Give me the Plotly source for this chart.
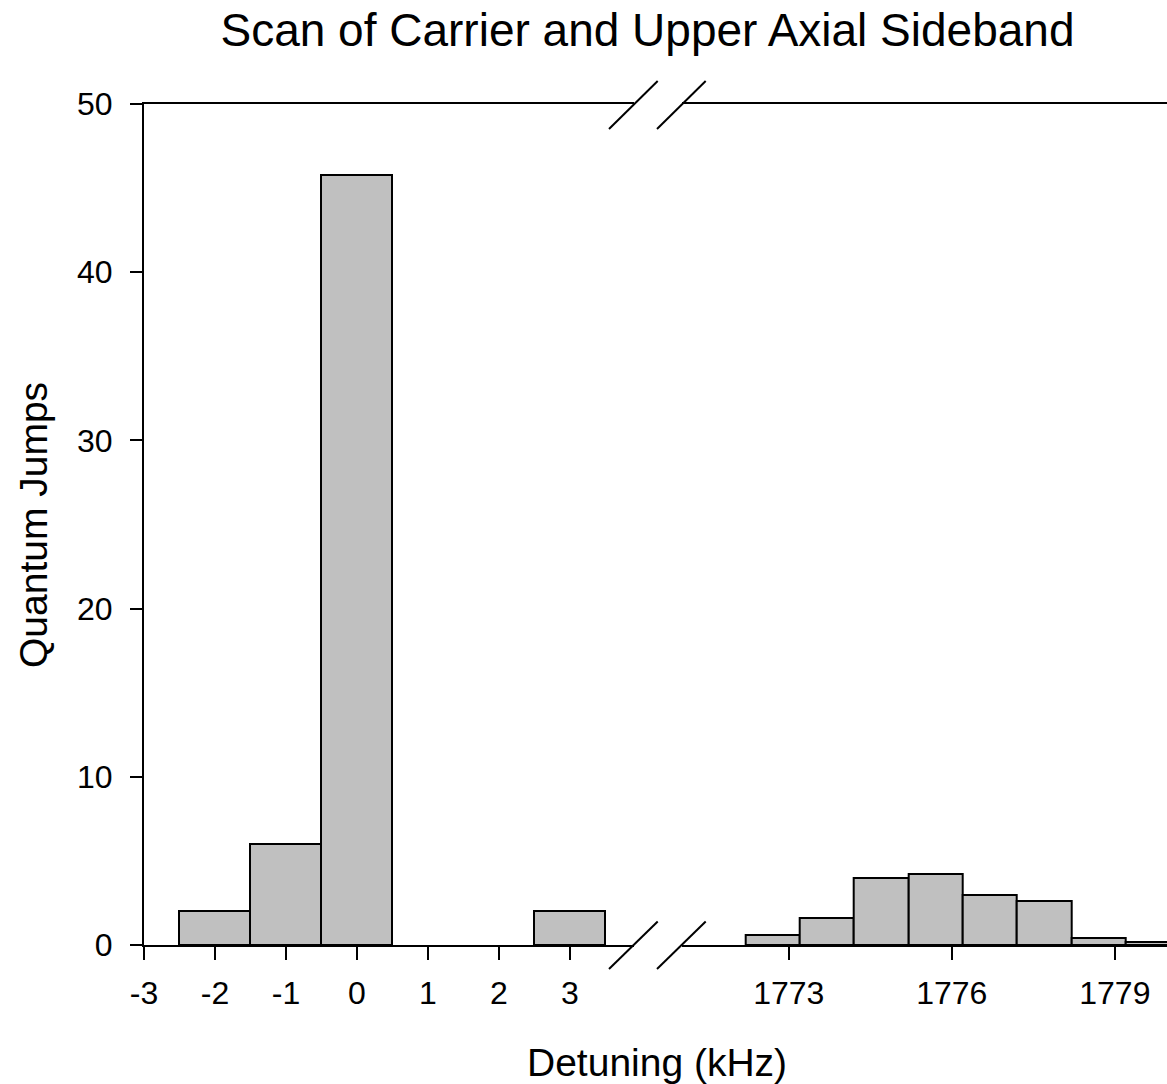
import plotly.graph_objects as go

# Carrier peak (left panel)
carrier_detuning = [-2, -1, 0, 3]
carrier_jumps = [2, 6, 45.8, 2]

# Upper axial sideband (right panel)
sideband_detuning = [1772.7, 1773.7, 1774.7, 1775.7, 1776.7, 1777.7, 1778.7, 1779.7]
sideband_jumps = [0.6, 1.6, 4.0, 4.2, 3.0, 2.6, 0.4, 0.2]

left_ticks = [-3, -2, -1, 0, 1, 2, 3]
right_ticks = [1773, 1776, 1779]
y_ticks = [0, 10, 20, 30, 40, 50]

W, H = 1167, 1084
ML, MR, MT, MB = 144, 0, 104, 139
PW, PH = W - ML - MR, H - MT - MB

def px(x):
    return (x - ML) / PW

def py(y):
    return (H - MB - y) / PH

FONT = "Liberation Sans, Arial, sans-serif"
TICK_FONT = dict(family=FONT, size=32, color="black")
bar_style = dict(marker=dict(color="#c0c0c0", line=dict(color="black", width=2)),
                 width=1, showlegend=False)

fig = go.Figure()
fig.add_trace(go.Bar(x=carrier_detuning, y=carrier_jumps, xaxis="x", yaxis="y", **bar_style))
fig.add_trace(go.Bar(x=sideband_detuning, y=sideband_jumps, xaxis="x2", yaxis="y", **bar_style))

axis_common = dict(showline=True, linecolor="black", linewidth=2, mirror=True,
                   ticks="outside", ticklen=13, tickwidth=2, tickcolor="black",
                   showgrid=False, zeroline=False, ticklabelstandoff=6,
                   tickfont=TICK_FONT)

# plain hyphen for negative tick labels
tick_text = lambda vals: [str(v) for v in vals]

fig.update_layout(
    width=W, height=H,
    margin=dict(l=ML, r=MR, t=MT, b=MB),
    plot_bgcolor="white", paper_bgcolor="white",
    bargap=0,
    xaxis=dict(domain=[0, px(633.7)], range=[-3, 3.9], tickvals=left_ticks,
               ticktext=tick_text(left_ticks), anchor="y", **axis_common),
    xaxis2=dict(domain=[px(681.7), 1], range=[1771.03, 1779.96], tickvals=right_ticks,
                ticktext=tick_text(right_ticks), anchor="y", **axis_common),
    yaxis=dict(domain=[0, 1], range=[0, 50], tickvals=y_ticks,
               showline=True, linecolor="black", linewidth=2,
               ticks="outside", ticklen=12, tickwidth=2, tickcolor="black",
               showgrid=False, zeroline=False, ticklabelstandoff=11,
               tickfont=TICK_FONT),
    title=dict(text="Scan of Carrier and Upper Axial Sideband",
               font=dict(family=FONT, size=46, color="black"),
               xref="paper", x=px(647.5), xanchor="center",
               yref="container", y=1 - 30 / H, yanchor="middle"),
    annotations=[
        dict(text="Detuning (kHz)", xref="paper", yref="paper",
             x=px(657), y=py(1062), xanchor="center", yanchor="middle",
             showarrow=False, font=dict(family=FONT, size=39, color="black")),
        dict(text="Quantum Jumps", xref="paper", yref="paper", textangle=-90,
             x=px(33), y=py(525), xanchor="center", yanchor="middle",
             showarrow=False, font=dict(family=FONT, size=39, color="black")),
    ],
)

# Axis break markers (top and bottom)
break_lines = [((609, 969), (657.7, 921.5)), ((657, 969), (705.7, 921.5)),
               ((609, 129), (657.7, 81)), ((657, 129), (705.7, 81))]
for (x0, y0), (x1, y1) in break_lines:
    fig.add_shape(type="line", xref="paper", yref="paper",
                  x0=px(x0), y0=py(y0), x1=px(x1), y1=py(y1),
                  line=dict(color="black", width=2))

fig.write_html("out.html")
